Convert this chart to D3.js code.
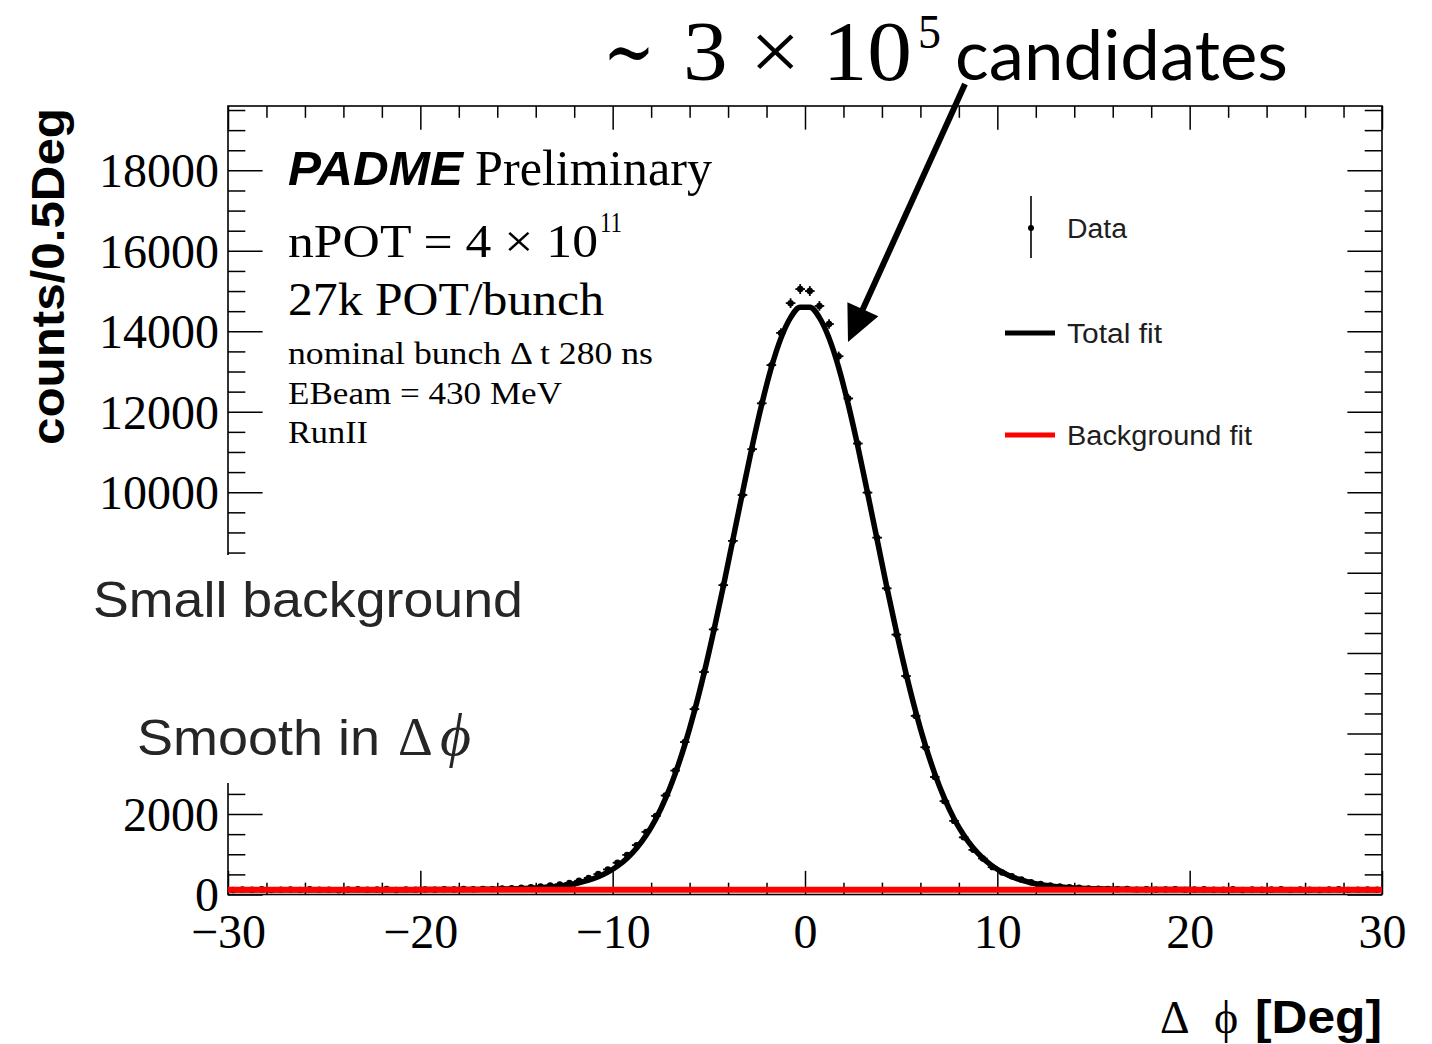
<!DOCTYPE html>
<html>
<head>
<meta charset="utf-8">
<script src="https://cdn.jsdelivr.net/npm/d3@7"></script>
<style>
  html, body { margin: 0; padding: 0; background: #fff; }
  svg { display: block; }
</style>
</head>
<body>
<svg id="chart" width="1432" height="1044"></svg>
<script>
// Δφ distribution of the candidates, 0.5° bins from -30° to +30°
const binLow = -30;
const binWidth = 0.5;

// Entries per bin (120 bins, left to right)
const counts = [
  112, 127, 118, 131, 109, 122, 125, 114, 133, 119,
  121, 108, 126, 130, 117, 124, 135, 113, 128, 122,
  126, 118, 131, 124, 138, 129, 141, 133, 152, 158,
  166, 183, 197, 224, 252, 288, 342, 412, 508, 624,
  790, 985, 1228, 1555, 1952, 2460, 3080, 3790, 4610, 5530,
  6590, 7690, 8790, 9930, 11070, 12210, 13160, 13960, 14700, 15050,
  15000, 14630, 14180, 13380, 12330, 11210, 9990, 8870, 7610, 6460,
  5430, 4440, 3660, 2920, 2320, 1830, 1420, 1110, 895, 680,
  548, 452, 372, 305, 264, 226, 199, 181, 166, 151,
  146, 139, 130, 136, 122, 131, 118, 127, 133, 115,
  124, 129, 117, 121, 132, 110, 126, 119, 123, 134,
  114, 128, 120, 111, 125, 130, 116, 122, 127, 118
];

// Total fit (signal + background) evaluated at the bin centres
const totalFit = [
  120, 120, 120, 120, 120, 120, 120, 120, 120, 120,
  120, 120, 120, 120, 120, 120, 121, 121, 121, 121,
  122, 122, 123, 124, 125, 126, 128, 131, 135, 140,
  147, 157, 171, 189, 214, 246, 292, 355, 440, 555,
  705, 900, 1155, 1480, 1885, 2390, 3000, 3720, 4555, 5500,
  6540, 7650, 8820, 9985, 11130, 12180, 13100, 13830, 14340, 14600,
  14600, 14340, 13830, 13100, 12180, 11130, 9985, 8820, 7650, 6540,
  5500, 4555, 3720, 3000, 2390, 1885, 1480, 1155, 900, 705,
  555, 440, 355, 292, 246, 214, 189, 171, 157, 147,
  140, 135, 131, 128, 126, 125, 124, 123, 122, 122,
  121, 121, 121, 121, 120, 120, 120, 120, 120, 120,
  120, 120, 120, 120, 120, 120, 120, 120, 120, 120
];

// Background component of the fit
const bkgX   = [-30, -20, -10, 0, 10, 20, 30];
const bkgFit = [120, 120, 120, 120, 120, 120, 120];

// Axis ticks
const xMajorTicks = [-30, -20, -10, 0, 10, 20, 30];
const xMinorTicks = [-28, -26, -24, -22, -18, -16, -14, -12, -8, -6, -4, -2,
                     2, 4, 6, 8, 12, 14, 16, 18, 22, 24, 26, 28];
const yMajorTicks = [0, 2000, 4000, 6000, 8000, 10000, 12000, 14000, 16000, 18000];
// labels under the annotation panel are not printed
const yLabelledTicks = [0, 2000, 10000, 12000, 14000, 16000, 18000];
const yMinorStep = 500;

// Legend entries
const legendItems = [
  { label: "Data", kind: "data" },
  { label: "Total fit", kind: "line", color: "#000" },
  { label: "Background fit", kind: "line", color: "#ff0000" }
];

const serif = "'Liberation Serif','Times New Roman',Times,serif";
const sans = "'Liberation Sans',Arial,Helvetica,sans-serif";

const svg = d3.select("#chart");

const x = d3.scaleLinear().domain([-30, 30]).range([228, 1382]);
const y = d3.scaleLinear().domain([0, 19600]).range([894.5, 106]);

const bins = counts.map((n, i) => ({
  lo: binLow + i * binWidth,
  hi: binLow + (i + 1) * binWidth,
  c: binLow + (i + 0.5) * binWidth,
  n: n,
  f: totalFit[i]
}));

const yMinorTicks = d3.range(0, 19600, yMinorStep).filter(v => v % 2000 !== 0);

const plotW = x(30) - x(-30);
const plotH = y(0) - y(19600);
const xTickLen = 0.03 * plotH;
const yTickLen = 0.03 * plotW;

function tidy(g) {
  g.select(".domain").remove();
  g.selectAll(".tick line").attr("stroke", "#000").attr("stroke-width", 1.5);
}

// ---- axes (ticks pointing inwards, mirrored on top and right) ----
svg.append("g").attr("transform", `translate(0,${y(0)})`)
  .call(d3.axisBottom(x).tickValues(xMinorTicks).tickSize(-xTickLen / 2).tickFormat(""))
  .call(tidy);
const xAxis = svg.append("g").attr("transform", `translate(0,${y(0)})`)
  .call(d3.axisBottom(x).tickValues(xMajorTicks).tickSize(-xTickLen).tickFormat(d3.format("d")))
  .call(tidy);
xAxis.selectAll(".tick text")
  .attr("y", 53.5).attr("dy", 0)
  .attr("font-family", serif).attr("font-size", 48).attr("fill", "#000");

svg.append("g").attr("transform", `translate(0,${y(19600)})`)
  .call(d3.axisTop(x).tickValues(xMinorTicks).tickSize(-xTickLen / 2).tickFormat(""))
  .call(tidy);
svg.append("g").attr("transform", `translate(0,${y(19600)})`)
  .call(d3.axisTop(x).tickValues(xMajorTicks).tickSize(-xTickLen).tickFormat(""))
  .call(tidy);

svg.append("g").attr("transform", `translate(${x(-30)},0)`)
  .call(d3.axisLeft(y).tickValues(yMinorTicks).tickSize(-yTickLen / 2).tickFormat(""))
  .call(tidy);
svg.append("g").attr("transform", `translate(${x(-30)},0)`)
  .call(d3.axisLeft(y).tickValues(yMajorTicks).tickSize(-yTickLen).tickFormat(""))
  .call(tidy);
const yAxis = svg.append("g").attr("transform", `translate(${x(-30)},0)`)
  .call(d3.axisLeft(y).tickValues(yLabelledTicks).tickSize(0).tickPadding(9).tickFormat(d3.format("d")))
  .call(tidy);
yAxis.selectAll(".tick line").remove();
yAxis.selectAll(".tick text")
  .attr("dy", "0.34em")
  .attr("font-family", serif).attr("font-size", 48).attr("fill", "#000");

svg.append("g").attr("transform", `translate(${x(30)},0)`)
  .call(d3.axisRight(y).tickValues(yMinorTicks).tickSize(-yTickLen / 2).tickFormat(""))
  .call(tidy);
svg.append("g").attr("transform", `translate(${x(30)},0)`)
  .call(d3.axisRight(y).tickValues(yMajorTicks).tickSize(-yTickLen).tickFormat(""))
  .call(tidy);

// frame
svg.append("rect")
  .attr("x", x(-30)).attr("y", y(19600))
  .attr("width", plotW).attr("height", plotH)
  .attr("fill", "none").attr("stroke", "#000").attr("stroke-width", 1.6);

// ---- data points with error bars ----
const dataG = svg.append("g").attr("stroke", "#000").attr("stroke-width", 1.8);
dataG.selectAll("line.ex").data(bins).join("line").attr("class", "ex")
  .attr("x1", d => x(d.lo)).attr("x2", d => x(d.hi))
  .attr("y1", d => y(d.n)).attr("y2", d => y(d.n));
dataG.selectAll("line.ey").data(bins).join("line").attr("class", "ey")
  .attr("x1", d => x(d.c)).attr("x2", d => x(d.c))
  .attr("y1", d => y(d.n - Math.sqrt(d.n))).attr("y2", d => y(d.n + Math.sqrt(d.n)));
svg.append("g").selectAll("circle").data(bins).join("circle")
  .attr("cx", d => x(d.c)).attr("cy", d => y(d.n)).attr("r", 3.2).attr("fill", "#000");

// ---- fit curves ----
const fitLine = d3.line().x(d => x(d.c)).y(d => y(d.f)).curve(d3.curveMonotoneX);
svg.append("path").datum(bins)
  .attr("d", fitLine)
  .attr("fill", "none").attr("stroke", "#000").attr("stroke-width", 5.5)
  .attr("stroke-linejoin", "round");

const bkgLine = d3.line().x((d, i) => x(bkgX[i])).y(d => y(d));
svg.append("path").datum(bkgFit)
  .attr("d", bkgLine)
  .attr("fill", "none").attr("stroke", "#ff0000").attr("stroke-width", 6);

// ---- axis titles ----
svg.append("text")
  .attr("transform", "translate(64,445) rotate(-90)")
  .attr("font-family", sans).attr("font-weight", "bold").attr("font-size", 46)
  .attr("textLength", 337).attr("lengthAdjust", "spacingAndGlyphs")
  .text("counts/0.5Deg");

svg.append("text").attr("x", 1160).attr("y", 1033)
  .attr("font-family", serif).attr("font-size", 46).text("Δ");
svg.append("text").attr("x", 1214).attr("y", 1033)
  .attr("font-family", serif).attr("font-size", 46).text("ϕ");
svg.append("text").attr("x", 1255).attr("y", 1033)
  .attr("font-family", sans).attr("font-weight", "bold").attr("font-size", 46)
  .attr("textLength", 127).attr("lengthAdjust", "spacingAndGlyphs").text("[Deg]");

// ---- legend ----
const legendX = 1005, legendRows = [228, 333, 435];
const legendWidths = [60, 95, 185];
const leg = svg.append("g");
legendItems.forEach((item, i) => {
  const cy = legendRows[i];
  if (item.kind === "data") {
    leg.append("line").attr("x1", 1031).attr("x2", 1031).attr("y1", cy - 32).attr("y2", cy + 30)
      .attr("stroke", "#000").attr("stroke-width", 1.6);
    leg.append("circle").attr("cx", 1031).attr("cy", cy).attr("r", 3).attr("fill", "#000");
  } else {
    leg.append("line").attr("x1", legendX).attr("x2", legendX + 50).attr("y1", cy).attr("y2", cy)
      .attr("stroke", item.color).attr("stroke-width", 5);
  }
  leg.append("text").attr("x", 1067).attr("y", cy + 10)
    .attr("font-family", sans).attr("font-size", 27).attr("fill", "#1e1e1e")
    .attr("textLength", legendWidths[i]).attr("lengthAdjust", "spacingAndGlyphs")
    .text(item.label);
});

// ---- labels inside the frame ----
function label(str, x0, yb, opts) {
  const t = svg.append("text").attr("x", x0).attr("y", yb)
    .attr("font-family", opts.family || serif)
    .attr("font-size", opts.size)
    .attr("fill", opts.fill || "#000")
    .text(str);
  if (opts.weight) t.attr("font-weight", opts.weight);
  if (opts.style) t.attr("font-style", opts.style);
  if (opts.len) t.attr("textLength", opts.len).attr("lengthAdjust", "spacingAndGlyphs");
  return t;
}
label("PADME", 288, 185, { family: sans, size: 48, weight: "bold", style: "italic", len: 175 });
label("Preliminary", 475, 185, { size: 50, len: 237 });
label("nPOT = 4 × 10", 288, 257, { size: 46, len: 310 });
label("11", 600, 232, { size: 30, len: 22 });
label("27k POT/bunch", 288, 315, { size: 46, len: 316 });
label("nominal bunch Δ t 280 ns", 288, 364, { size: 32, len: 365 });
label("EBeam = 430 MeV", 288, 404, { size: 32, len: 274 });
label("RunII", 288, 443, { size: 32, len: 80 });

// ---- annotation panel over the lower part of the y axis ----
svg.append("rect").attr("x", 0).attr("y", 555).attr("width", 545).attr("height", 228).attr("fill", "#fff");
label("Small background", 93, 617, { family: sans, size: 50, fill: "#262626", len: 430 });
label("Smooth in ", 137, 755, { family: sans, size: 50, fill: "#262626", len: 243 });
label("Δ", 398, 755, { size: 54, fill: "#262626" });
label("ϕ", 440, 755, { size: 60, style: "italic", fill: "#262626" });

// ---- headline and arrow ----
label("∼", 603, 80, { family: "'DejaVu Serif'," + serif, size: 84, len: 52 });
label("3 × 10", 683, 80, { size: 84, len: 229 });
label("5", 918, 48, { size: 48, len: 23 });
label("candidates", 955, 80, { family: "Lato,'Open Sans',sans-serif", size: 70, len: 333 });

const arrowFrom = [965, 84], arrowTip = [848, 342];
const dx = arrowTip[0] - arrowFrom[0], dy = arrowTip[1] - arrowFrom[1];
const len = Math.hypot(dx, dy), ux = dx / len, uy = dy / len;
const headLen = 36, headHalf = 17;
const base = [arrowTip[0] - ux * headLen, arrowTip[1] - uy * headLen];
svg.append("line")
  .attr("x1", arrowFrom[0]).attr("y1", arrowFrom[1])
  .attr("x2", base[0] + ux * 4).attr("y2", base[1] + uy * 4)
  .attr("stroke", "#000").attr("stroke-width", 6);
svg.append("polygon")
  .attr("points", [
    arrowTip,
    [base[0] - uy * headHalf, base[1] + ux * headHalf],
    [base[0] + uy * headHalf, base[1] - ux * headHalf]
  ].map(p => p.join(",")).join(" "))
  .attr("fill", "#000");
</script>
</body>
</html>
